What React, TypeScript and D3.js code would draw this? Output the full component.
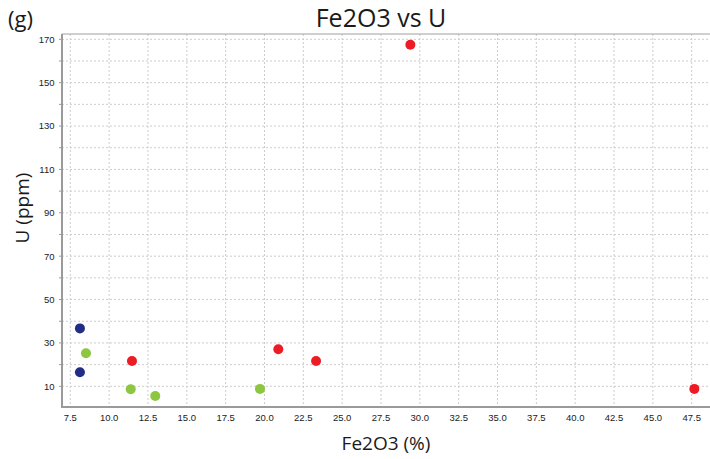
import React from "react";
import * as d3 from "d3";

const blueX = [8.12, 8.12];
const blueY = [36.7, 16.5];
const greenX = [8.51, 11.39, 12.97, 19.71];
const greenY = [25.2, 8.6, 5.5, 8.8];
const redX = [11.47, 20.89, 23.32, 29.39, 47.67];
const redY = [21.7, 27.1, 21.7, 167.5, 8.8];
const xTicks = [7.5, 10, 12.5, 15, 17.5, 20, 22.5, 25, 27.5, 30, 32.5, 35, 37.5, 40, 42.5, 45, 47.5];
const yTicks = [10, 30, 50, 70, 90, 110, 130, 150, 170];
const yGrid = [10, 20, 30, 40, 50, 60, 70, 80, 90, 100, 110, 120, 130, 140, 150, 160, 170];

const W = 710, H = 459;
const L = 62, R = 712, T = 34, B = 407;

export default function App() {
  const x = d3.scaleLinear().domain([7.5, 47.5]).range([70.3, 691.7]);
  const y = d3.scaleLinear().domain([10, 170]).range([386.3, 39.3]);
  const series = [
    { xs: blueX, ys: blueY, color: "#232d85" },
    { xs: greenX, ys: greenY, color: "#8dc63f" },
    { xs: redX, ys: redY, color: "#ed1c24" },
  ];
  const font = "'Liberation Sans', Arial, sans-serif";
  return (
    <svg width={W} height={H} style={{ position: "absolute", left: 0, top: 0, background: "#fff" }}>
      <rect x={0} y={0} width={W} height={H} fill="#fff" />
      {xTicks.map((t) => (
        <line key={"gx" + t} x1={x(t)} x2={x(t)} y1={T} y2={B} stroke="#cccccc" strokeDasharray="2,2" strokeWidth={1} />
      ))}
      {yGrid.map((t) => (
        <line key={"gy" + t} x1={L} x2={R} y1={y(t)} y2={y(t)} stroke="#cccccc" strokeDasharray="2,2" strokeWidth={1} />
      ))}
      <line x1={L} x2={R} y1={T} y2={T} stroke="#a0a0a0" strokeWidth={1} />
      <line x1={L} x2={L} y1={T} y2={B} stroke="#9a9a9a" strokeWidth={2} />
      <line x1={L - 1} x2={R} y1={B} y2={B} stroke="#9a9a9a" strokeWidth={2} />
      {yGrid.map((t) => (
        <line key={"ty" + t} x1={L - 3} x2={L} y1={y(t)} y2={y(t)} stroke="#9a9a9a" strokeWidth={1} />
      ))}
      {xTicks.map((t) => (
        <text key={"lx" + t} x={x(t)} y={421} textAnchor="middle" fontFamily={font} fontSize={9.5} fill="#222">
          {t.toFixed(1)}
        </text>
      ))}
      {yTicks.map((t) => (
        <text key={"ly" + t} x={54.5} y={y(t) + 3.4} textAnchor="end" fontFamily={font} fontSize={9.5} fill="#222">
          {t}
        </text>
      ))}
      {series.map((s, si) =>
        s.xs.map((v, i) => (
          <circle key={si + "-" + i} cx={x(v)} cy={y(s.ys[i])} r={5} fill={s.color} />
        ))
      )}
      <text x={381} y={27} textAnchor="middle" fontFamily="'Open Sans', sans-serif" fontSize={25} fill="#1a1a1a">
        Fe2O3 vs U
      </text>
      <text x={8} y={27} fontFamily="'Open Sans', sans-serif" fontSize={22} fill="#1a1a1a">
        (g)
      </text>
      <text x={386} y={450} textAnchor="middle" fontFamily="'Open Sans', sans-serif" fontSize={19} fill="#1a1a1a">
        Fe2O3 (%)
      </text>
      <text transform="translate(29,208) rotate(-90)" textAnchor="middle" fontFamily="'Open Sans', sans-serif" fontSize={19} fill="#1a1a1a">
        U (ppm)
      </text>
    </svg>
  );
}
